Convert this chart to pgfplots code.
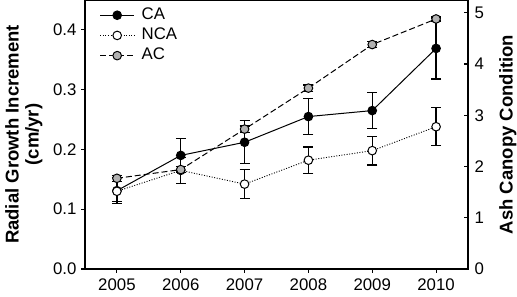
\documentclass[border=0pt]{standalone}
\usepackage{pgfplots}
\pgfplotsset{compat=1.18}
\usepackage{fontspec}
\setmainfont{Liberation Sans}
\begin{document}
\begin{tikzpicture}
\pgfplotsset{
  common/.style={
    width=383pt, height=269pt, scale only axis,
    xmin=2004.5, xmax=2010.5,
    xtick={2005,2006,2007,2008,2009,2010},
    /pgf/number format/assume math mode=true,
    /pgf/number format/1000 sep={},
    tick label style={font=\fontsize{16.8}{18}\selectfont},
    axis line style={line width=1.1pt},
    major tick length=4pt,
    every tick/.style={black, line width=1.1pt},
    error bars/error bar style={solid, line width=1.2pt, black},
    error bars/error mark options={solid, rotate=90, mark size=5pt, line width=1.2pt, black},
  }
}
\begin{axis}[common, name=ax,
  ymin=0, ymax=0.45, ytick={0,0.1,0.2,0.3,0.4},
  yticklabel style={/pgf/number format/fixed, /pgf/number format/fixed zerofill, /pgf/number format/precision=1, xshift=-1pt},
  xtick pos=bottom, ytick pos=left, tick align=outside,
  xticklabel style={yshift=-2pt},
  ylabel={Radial Growth Increment\\(cm/yr)},
  every axis y label/.style={at={(axis description cs:-0.16,0.5)}, rotate=90, anchor=center,
    align=center, font=\bfseries\fontsize{18.5}{20}\selectfont},
  legend style={at={(axis description cs:0.03,0.985)}, anchor=north west, draw=none, fill=none,
    font=\fontsize{16.8}{18}\selectfont, row sep=2.2pt,
    nodes={text height=11pt, text depth=3pt},
    /tikz/every odd column/.append style={column sep=5pt}},
  legend cell align=left,
  legend image code/.code={\draw[mark repeat=2, mark phase=2] plot coordinates {(0pt,0pt) (17pt,0pt) (34pt,0pt)};},
]
\addplot[black, line width=1pt, mark=*, mark size=4.3pt, mark options={solid, fill=black},
  error bars/.cd, y dir=both, y explicit]
  coordinates {
  (2005,0.131) +- (0,0.022)
  (2006,0.190) +- (0,0.028)
  (2007,0.212) +- (0,0.036)
  (2008,0.255) +- (0,0.030)
  (2009,0.265) +- (0,0.030)
  (2010,0.369) +- (0,0.051)
  };
\addlegendentry{CA}
\addplot[black, line width=0.9pt, dash pattern=on 1pt off 1.6pt, mark=*, mark size=4.3pt,
  mark options={solid, fill=white, line width=1pt},
  error bars/.cd, y dir=both, y explicit]
  coordinates {
  (2005,0.130) +- (0,0.017)
  (2006,0.165) +- (0,0.022)
  (2007,0.142) +- (0,0.024)
  (2008,0.182) +- (0,0.022)
  (2009,0.198) +- (0,0.024)
  (2010,0.238) +- (0,0.032)
  };
\addlegendentry{NCA}
\addlegendimage{black, line width=1pt, dash pattern=on 6pt off 3pt, mark=*, mark size=4.3pt,
  mark options={solid, fill=gray!60, line width=1pt}}
\addlegendentry{AC}
\end{axis}
\begin{axis}[common,
  ymin=0, ymax=5.25, ytick={0,1,2,3,4,5},
  axis y line*=right, hide x axis, tick align=inside,
  yticklabel style={xshift=3pt},
  ylabel={Ash Canopy Condition},
  every axis y label/.style={at={(axis description cs:1.104,0.5)}, rotate=90, anchor=center,
    font=\bfseries\fontsize{18.5}{20}\selectfont},
]
\addplot[black, line width=1pt, dash pattern=on 6pt off 3pt, mark=*, mark size=4.3pt,
  mark options={solid, fill=gray!60, line width=1pt},
  error bars/.cd, y dir=both, y explicit]
  coordinates {
  (2005,1.77) +- (0,0.06)
  (2006,1.94) +- (0,0.06)
  (2007,2.73) +- (0,0.06)
  (2008,3.53) +- (0,0.06)
  (2009,4.38) +- (0,0.06)
  (2010,4.88) +- (0,0.04)
  };
\end{axis}
\pgfresetboundingbox
\useasboundingbox ([xshift=-85pt,yshift=-28pt]ax.south west) rectangle ([xshift=49pt]ax.north east);
\end{tikzpicture}
\end{document}
